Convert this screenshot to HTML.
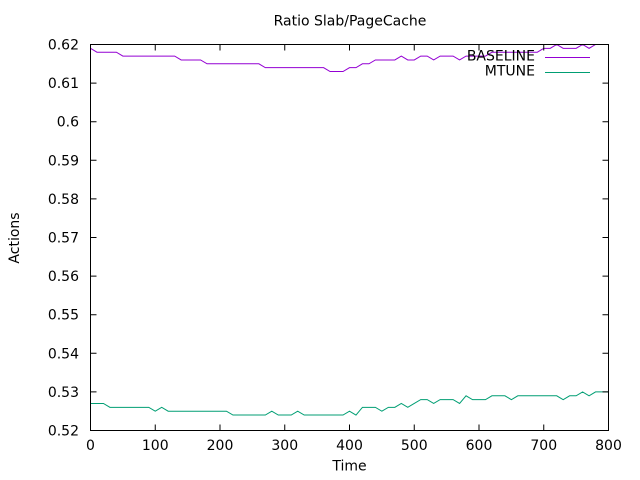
<!DOCTYPE html>
<html>
<head>
<meta charset="utf-8">
<style>
html,body{margin:0;padding:0;background:#fff;}
svg{display:block;}
text{font-family:"DejaVu Sans","Liberation Sans",sans-serif;font-size:14px;fill:#000;}
</style>
</head>
<body>
<svg width="640" height="480" viewBox="0 0 640 480" xmlns="http://www.w3.org/2000/svg">
<rect x="0" y="0" width="640" height="480" fill="#fff"/>
<text x="350" y="25.3" text-anchor="middle">Ratio Slab/PageCache</text>

<!-- series -->
<g transform="matrix(0.6475 0 0 -3.86 90.5 430.5)" fill="none">
<polyline vector-effect="non-scaling-stroke" stroke="#9400d3" stroke-width="1"
points="0,99 10,98 40,98 50,97 130,97 140,96 170,96 180,95 260,95 270,94 360,94 370,93 390,93 400,94 410,94 420,95 430,95 440,96 470,96 480,97 490,96 500,96 510,97 520,97 530,96 540,97 560,97 570,96 580,97 610,97 620,98 690,98 700,99 710,99 720,100 730,99 750,99 760,100 770,99 780,100 800,100"/>
<polyline vector-effect="non-scaling-stroke" stroke="#009e73" stroke-width="1"
points="0,7 20,7 30,6 90,6 100,5 110,6 120,5 210,5 220,4 270,4 280,5 290,4 310,4 320,5 330,4 390,4 400,5 410,4 420,6 440,6 450,5 460,6 470,6 480,7 490,6 500,7 510,8 520,8 530,7 540,8 560,8 570,7 580,9 590,8 610,8 620,9 640,9 650,8 660,9 720,9 730,8 740,9 750,9 760,10 770,9 780,10 800,10"/>
</g>

<!-- border -->
<rect x="90.5" y="44.5" width="518" height="386" fill="none" stroke="#000" stroke-width="1"/>

<!-- ticks -->
<g stroke="#000" stroke-width="1">
<path d="M90.5 430.5h6M90.5 391.9h6M90.5 353.3h6M90.5 314.7h6M90.5 276.1h6M90.5 237.5h6M90.5 198.9h6M90.5 160.3h6M90.5 121.7h6M90.5 83.1h6M90.5 44.5h6"/>
<path d="M608.5 430.5h-6M608.5 391.9h-6M608.5 353.3h-6M608.5 314.7h-6M608.5 276.1h-6M608.5 237.5h-6M608.5 198.9h-6M608.5 160.3h-6M608.5 121.7h-6M608.5 83.1h-6M608.5 44.5h-6"/>
<path d="M90.5 430.5v-6M155.25 430.5v-6M220 430.5v-6M284.75 430.5v-6M349.5 430.5v-6M414.25 430.5v-6M479 430.5v-6M543.75 430.5v-6M608.5 430.5v-6"/>
<path d="M90.5 44.5v6M155.25 44.5v6M220 44.5v6M284.75 44.5v6M349.5 44.5v6M414.25 44.5v6M479 44.5v6M543.75 44.5v6M608.5 44.5v6"/>
</g>

<!-- y tick labels -->
<g text-anchor="end">
<text x="79" y="435.5">0.52</text>
<text x="79" y="396.9">0.53</text>
<text x="79" y="358.3">0.54</text>
<text x="79" y="319.7">0.55</text>
<text x="79" y="281.1">0.56</text>
<text x="79" y="242.5">0.57</text>
<text x="79" y="203.9">0.58</text>
<text x="79" y="165.3">0.59</text>
<text x="79" y="126.7">0.6</text>
<text x="79" y="88.1">0.61</text>
<text x="79" y="49.5">0.62</text>
</g>

<!-- x tick labels -->
<g text-anchor="middle">
<text x="90.5" y="450">0</text>
<text x="155.25" y="450">100</text>
<text x="220" y="450">200</text>
<text x="284.75" y="450">300</text>
<text x="349.5" y="450">400</text>
<text x="414.25" y="450">500</text>
<text x="479" y="450">600</text>
<text x="543.75" y="450">700</text>
<text x="608.5" y="450">800</text>
</g>

<text x="349.5" y="470.5" text-anchor="middle">Time</text>
<text transform="translate(19 238) rotate(-90)" text-anchor="middle">Actions</text>

<!-- legend -->
<text x="535" y="60.5" text-anchor="end">BASELINE</text>
<line x1="545" y1="57.5" x2="590" y2="57.5" stroke="#9400d3" stroke-width="1"/>
<text x="535" y="75.5" text-anchor="end">MTUNE</text>
<line x1="545" y1="72.5" x2="590" y2="72.5" stroke="#009e73" stroke-width="1"/>
</svg>
</body>
</html>
